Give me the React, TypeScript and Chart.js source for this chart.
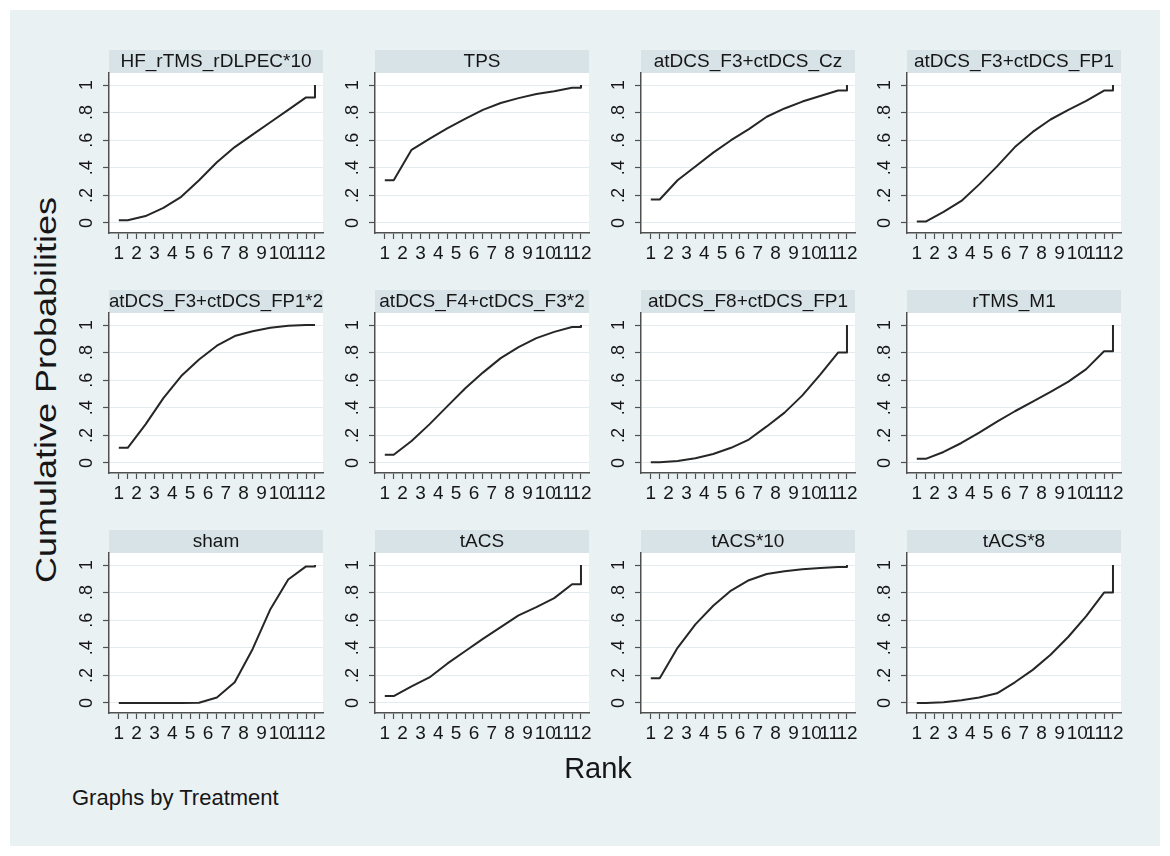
import React, { useEffect, useRef } from 'react';
import { Chart, registerables } from 'chart.js';

Chart.register(...registerables);

// ---------------- data ----------------
const treatments = [
  'HF_rTMS_rDLPEC*10',
  'TPS',
  'atDCS_F3+ctDCS_Cz',
  'atDCS_F3+ctDCS_FP1',
  'atDCS_F3+ctDCS_FP1*2',
  'atDCS_F4+ctDCS_F3*2',
  'atDCS_F8+ctDCS_FP1',
  'rTMS_M1',
  'sham',
  'tACS',
  'tACS*10',
  'tACS*8',
];

// cumulative probability of being ranked <= r, for r = 1..11 (rank 12 is always 1)
const hfRtmsRdlpec10 = [0.02, 0.05, 0.11, 0.19, 0.31, 0.44, 0.55, 0.64, 0.73, 0.82, 0.91];
const tps = [0.31, 0.53, 0.61, 0.685, 0.755, 0.82, 0.87, 0.905, 0.935, 0.955, 0.98];
const atdcsF3CtdcsCz = [0.17, 0.31, 0.41, 0.51, 0.6, 0.68, 0.77, 0.83, 0.88, 0.92, 0.96];
const atdcsF3CtdcsFp1 = [0.01, 0.08, 0.16, 0.28, 0.41, 0.55, 0.66, 0.75, 0.82, 0.885, 0.96];
const atdcsF3CtdcsFp1x2 = [0.11, 0.28, 0.47, 0.63, 0.75, 0.85, 0.92, 0.955, 0.98, 0.995, 1.0];
const atdcsF4CtdcsF3x2 = [0.06, 0.16, 0.28, 0.41, 0.54, 0.655, 0.76, 0.84, 0.905, 0.95, 0.985];
const atdcsF8CtdcsFp1 = [0.005, 0.015, 0.035, 0.065, 0.11, 0.17, 0.265, 0.365, 0.49, 0.64, 0.8];
const rtmsM1 = [0.03, 0.08, 0.145, 0.22, 0.3, 0.375, 0.445, 0.515, 0.59, 0.68, 0.81];
const sham = [0, 0, 0, 0, 0.002, 0.04, 0.15, 0.39, 0.68, 0.895, 0.99];
const tacs = [0.05, 0.12, 0.185, 0.285, 0.375, 0.465, 0.55, 0.635, 0.695, 0.76, 0.86];
const tacsX10 = [0.18, 0.4, 0.57, 0.705, 0.815, 0.89, 0.935, 0.955, 0.97, 0.978, 0.985];
const tacsX8 = [0, 0.005, 0.02, 0.04, 0.07, 0.15, 0.24, 0.35, 0.48, 0.63, 0.8];

const seriesValues = [
  hfRtmsRdlpec10, tps, atdcsF3CtdcsCz, atdcsF3CtdcsFp1,
  atdcsF3CtdcsFp1x2, atdcsF4CtdcsF3x2, atdcsF8CtdcsFp1, rtmsM1,
  sham, tacs, tacsX10, tacsX8,
];

const ranks = [1, 2, 3, 4, 5, 6, 7, 8, 9, 10, 11, 12];
const finalCumulative = 1;
const yTickValues = [0, 0.2, 0.4, 0.6, 0.8, 1];
const yTickLabels = ['0', '.2', '.4', '.6', '.8', '1'];

// ---------------- style ----------------
const FONT = '"Liberation Sans", Arial, Helvetica, sans-serif';
const PAGE_BG = '#eaf1f3';
const STRIP_BG = '#d8e3e8';
const GRID = '#e4ebee';
const AXIS = '#505050';
const TEXT = '#161616';
const CURVE = '#262626';

const COLS = 4;
const PLOT_W = 214;
const PLOT_H = 160;
const STRIP_H = 23;
const Y_AXIS_W = 45;
const X_AXIS_H = 45;
const RIGHT_PAD = 15;
const COL_LEFT0 = 109;
const COL_PITCH = 266;
const ROW_TOP0 = 50;
const ROW_PITCH = 240;

// line path: flat start at rank 1, values at rank boundaries, flat end and jump to 1 at rank 12
function buildPoints(values: number[]) {
  const first = ranks[0];
  const last = ranks[ranks.length - 1];
  const pts: { x: number; y: number }[] = [{ x: first, y: values[0] }];
  values.forEach((v, i) => pts.push({ x: ranks[i] + 0.5, y: v }));
  pts.push({ x: last, y: values[values.length - 1] });
  pts.push({ x: last, y: finalCumulative });
  return pts;
}

const xTickValues: number[] = [];
ranks.forEach((r, i) => {
  xTickValues.push(r);
  if (i < ranks.length - 1) xTickValues.push(r + 0.5);
});

const panelBackground = {
  id: 'panelBackground',
  beforeDraw(chart: any) {
    const { ctx, chartArea: a } = chart;
    ctx.save();
    ctx.fillStyle = STRIP_BG;
    ctx.fillRect(a.left, 0, a.right - a.left, a.top);
    ctx.fillStyle = '#ffffff';
    ctx.fillRect(a.left, a.top, a.right - a.left, a.bottom - a.top);
    ctx.restore();
  },
};

function Panel({ title, values, left, top }: { title: string; values: number[]; left: number; top: number }) {
  const ref = useRef<HTMLCanvasElement>(null);
  useEffect(() => {
    if (!ref.current) return;
    const chart = new Chart(ref.current, {
      type: 'line',
      data: {
        datasets: [
          {
            data: buildPoints(values),
            borderColor: CURVE,
            borderWidth: 2,
            pointRadius: 0,
            tension: 0,
            fill: false,
            borderJoinStyle: 'round',
          } as any,
        ],
      },
      options: {
        animation: false,
        responsive: false,
        events: [],
        layout: { padding: { left: 0, right: RIGHT_PAD, top: 0, bottom: 0 }, autoPadding: false } as any,
        plugins: {
          legend: { display: false },
          tooltip: { enabled: false },
          title: {
            display: true,
            text: title,
            fullSize: false,
            padding: 0,
            color: TEXT,
            font: { family: FONT, size: 19, weight: 'normal', lineHeight: STRIP_H + 'px' } as any,
          },
        },
        scales: {
          x: {
            type: 'linear',
            position: 'bottom',
            min: 0.45,
            max: 12.45,
            afterBuildTicks: (axis: any) => {
              axis.ticks = xTickValues.map((v) => ({ value: v }));
            },
            afterFit: (axis: any) => {
              axis.height = X_AXIS_H;
            },
            grid: { drawOnChartArea: false, drawTicks: true, tickLength: 6, tickColor: AXIS, tickWidth: 1.2 },
            border: { display: true, color: AXIS, width: 1.5 },
            ticks: {
              autoSkip: false,
              minRotation: 0,
              maxRotation: 0,
              padding: 3,
              color: TEXT,
              font: { family: FONT, size: 19 },
              callback: (v: any) => (Number.isInteger(v) ? String(v) : ''),
            },
          },
          y: {
            type: 'linear',
            min: -0.0725,
            max: 1.087,
            afterBuildTicks: (axis: any) => {
              axis.ticks = yTickValues.map((v) => ({ value: v }));
            },
            afterFit: (axis: any) => {
              axis.width = Y_AXIS_W;
            },
            grid: { drawOnChartArea: true, color: GRID, lineWidth: 1, drawTicks: true, tickLength: 6, tickColor: AXIS, tickWidth: 1.2 },
            border: { display: true, color: AXIS, width: 1.5 },
            ticks: {
              minRotation: 90,
              maxRotation: 90,
              crossAlign: 'center',
              padding: 8,
              color: TEXT,
              font: { family: FONT, size: 18 },
              callback: (v: any) => {
                const i = yTickValues.indexOf(v);
                return i >= 0 ? yTickLabels[i] : '';
              },
            },
          },
        },
      } as any,
      plugins: [panelBackground],
    });
    return () => chart.destroy();
  }, [title, values]);
  const w = Y_AXIS_W + PLOT_W + RIGHT_PAD;
  const h = STRIP_H + PLOT_H + X_AXIS_H;
  return (
    <canvas
      ref={ref}
      width={w}
      height={h}
      style={{ position: 'absolute', left, top, width: w, height: h }}
    />
  );
}

export default function App() {
  return (
    <div
      style={{
        position: 'absolute',
        left: 0,
        top: 0,
        width: 1170,
        height: 856,
        background: '#ffffff',
        fontFamily: FONT,
        color: TEXT,
        overflow: 'hidden',
      }}
    >
      <div style={{ position: 'absolute', left: 10, top: 10, width: 1150, height: 836, background: PAGE_BG }} />
      {treatments.map((t, i) => {
        const c = i % COLS;
        const r = Math.floor(i / COLS);
        return (
          <Panel
            key={t}
            title={t}
            values={seriesValues[i]}
            left={COL_LEFT0 + c * COL_PITCH - Y_AXIS_W}
            top={ROW_TOP0 + r * ROW_PITCH}
          />
        );
      })}
      <div
        style={{
          position: 'absolute',
          left: 46,
          top: 390,
          transform: 'translate(-50%, -50%) rotate(-90deg) scaleY(0.8)',
          fontSize: 36,
          lineHeight: 1,
          whiteSpace: 'nowrap',
        }}
      >
        Cumulative Probabilities
      </div>
      <div
        style={{
          position: 'absolute',
          left: 598,
          top: 768,
          transform: 'translate(-50%, -50%)',
          fontSize: 29,
          lineHeight: 1,
          whiteSpace: 'nowrap',
        }}
      >
        Rank
      </div>
      <div
        style={{
          position: 'absolute',
          left: 72,
          top: 798,
          transform: 'translateY(-50%)',
          fontSize: 22,
          lineHeight: 1,
          whiteSpace: 'nowrap',
        }}
      >
        Graphs by Treatment
      </div>
    </div>
  );
}
